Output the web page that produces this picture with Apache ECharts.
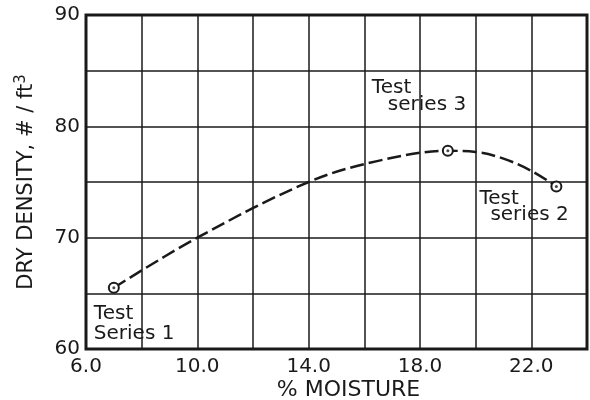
<!DOCTYPE html>
<html>
<head>
<meta charset="utf-8">
<script src="https://cdn.jsdelivr.net/npm/echarts@6/dist/echarts.min.js"></script>
<style>html,body{margin:0;padding:0;background:#fff;}#c{width:590px;height:400px;}</style>
</head>
<body>
<div id="c"></div>
<script>
// Test points (x = % moisture, y = dry density)
const testX = [7.0, 22.9, 19.0];
const testY = [65.5, 74.6, 77.8];
const testNames = ['Test|Series 1', 'Test|series 2', 'Test|series 3'];
// Dashed fitted curve
const curveX = [7.0, 10.0, 14.0, 16.5, 19.0, 20.0, 21.0, 22.0, 22.9];
const curveY = [65.5, 70.0, 75.0, 76.9, 77.8, 77.7, 77.1, 76.0, 74.6];
// Tick labels
const xTickLabels = ['6.0', '10.0', '14.0', '18.0', '22.0'];
const yTickLabels = ['60', '70', '80', '90'];

const FONT = 'DejaVu Sans';
const INK = '#1a1a1a';

const labelCfg = [
  {dx: -20, dy: 16, lh: 20, indent: 0},
  {dx: -77, dy: 4, lh: 16.5, indent: 11},
  {dx: -76, dy: -71, lh: 16.5, indent: 16}
];

const pts = testX.map((x, i) => {
  const c = labelCfg[i];
  const parts = testNames[i].split('|');
  return {
    value: [x, testY[i]],
    label: {
      show: true,
      position: 'inside',
      align: 'left',
      verticalAlign: 'top',
      offset: [c.dx, c.dy],
      formatter: '{a|' + parts[0] + '}\n{b|' + parts[1] + '}',
      rich: {
        a: {fontFamily: FONT, fontSize: 20, color: INK, lineHeight: c.lh},
        b: {fontFamily: FONT, fontSize: 20, color: INK, lineHeight: c.lh, padding: [0, 0, 0, c.indent]}
      }
    }
  };
});

const chart = echarts.init(document.getElementById('c'), null, {renderer: 'canvas'});
chart.setOption({
  animation: false,
  backgroundColor: '#fff',
  grid: {left: 86, right: 3, top: 15, bottom: 51, containLabel: false, outerBoundsMode: 'none',
         show: true, borderColor: INK, borderWidth: 3, backgroundColor: 'transparent'},
  xAxis: {
    type: 'value', min: 6, max: 24, interval: 2,
    name: '% MOISTURE', nameLocation: 'middle', nameGap: 30, nameMoveOverlap: false,
    nameTextStyle: {fontFamily: FONT, fontSize: 22, color: INK, padding: [0, 0, 0, 24]},
    axisLine: {show: false}, axisTick: {show: false},
    axisLabel: {
      fontFamily: FONT, fontSize: 20, color: INK, margin: 8,
      formatter: v => { const s = v.toFixed(1); return xTickLabels.includes(s) ? s : ''; }
    },
    splitLine: {show: true, lineStyle: {color: INK, width: 1.5}}
  },
  yAxis: {
    type: 'value', min: 60, max: 90, interval: 5,
    name: 'DRY DENSITY, # / ft{sup|3}', nameLocation: 'middle', nameGap: 46, nameRotate: 90,
    nameMoveOverlap: false,
    nameTextStyle: {
      fontFamily: FONT, fontSize: 21, color: INK, lineHeight: 26, verticalAlign: 'bottom',
      rich: {sup: {fontFamily: FONT, fontSize: 15, color: INK, lineHeight: 26, verticalAlign: 'top'}}
    },
    axisLine: {show: false}, axisTick: {show: false},
    axisLabel: {
      fontFamily: FONT, fontSize: 20, color: INK, margin: 6,
      formatter: v => { const s = String(v); return yTickLabels.includes(s) ? s : ''; }
    },
    splitLine: {show: true, lineStyle: {color: INK, width: 1.5}}
  },
  series: [
    {
      type: 'line', data: curveX.map((x, i) => [x, curveY[i]]),
      smooth: 0.35, symbol: 'none', z: 3,
      lineStyle: {color: INK, width: 2.5, type: [14, 5]}
    },
    {
      type: 'scatter', data: pts, symbol: 'circle', symbolSize: 10, z: 4,
      itemStyle: {color: '#fff', borderColor: INK, borderWidth: 2, opacity: 1}
    },
    {
      type: 'scatter', data: testX.map((x, i) => [x, testY[i]]), symbol: 'circle', symbolSize: 3, z: 5,
      itemStyle: {color: INK}, silent: true
    }
  ]
});
</script>
</body>
</html>
